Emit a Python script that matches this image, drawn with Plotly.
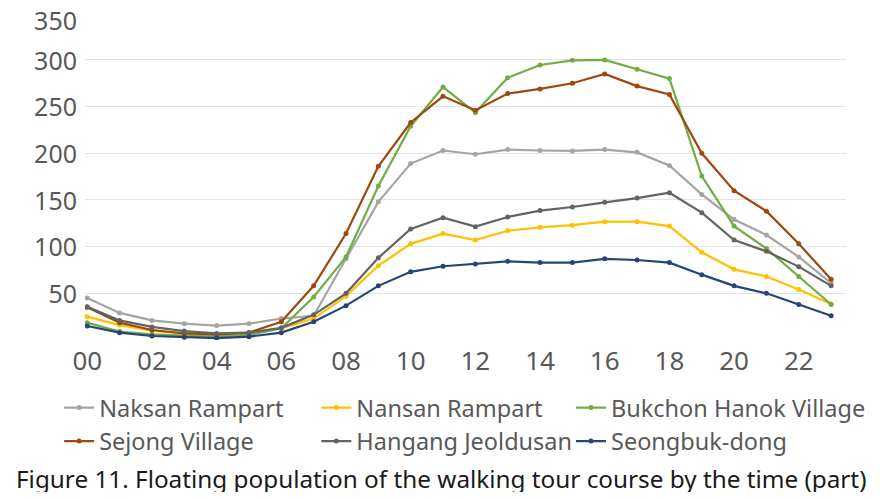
import plotly.graph_objects as go

hours = list(range(24))
tick_vals = list(range(0, 24, 2))
tick_text = ["00", "02", "04", "06", "08", "10", "12", "14", "16", "18", "20", "22"]
y_ticks = [50, 100, 150, 200, 250, 300, 350]

naksan = [45, 29, 21, 17.5, 15.5, 17.5, 23, 26, 87, 148, 189, 203, 199, 204, 203, 202.5, 204, 201, 187, 156, 129, 112.5, 89, 61]
nansan = [25, 16, 10, 7, 5.4, 6.4, 12.5, 23, 47, 79.6, 103, 114, 107, 117, 120.7, 123, 126.8, 126.8, 122, 94, 75.7, 68, 54, 38.6]
bukchon = [18.6, 9, 6, 4.6, 3.6, 5.4, 12.5, 46, 89, 165, 229, 271, 243.6, 281, 294.6, 299.6, 300, 290, 280, 175.7, 122, 98, 68, 38]
sejong = [35, 18.6, 10.7, 7, 6, 7.9, 19.6, 58, 114, 186, 233, 261, 246, 264, 269, 275, 285, 272, 263, 200, 160, 138, 103, 65]
hangang = [35.7, 21, 14, 9.6, 7, 8, 13, 27, 50, 88, 119, 131, 121.4, 131.8, 138.6, 142.5, 147.5, 152, 157.8, 136.4, 107, 95, 78.6, 58]
seongbuk = [15, 7.9, 4.3, 2.9, 2.1, 3.6, 7.9, 19.6, 36.8, 58, 73, 79, 81.4, 84.3, 82.9, 82.9, 87, 85.7, 82.9, 70, 58, 50, 38, 26]

# (name, values, colour, legend column)
series = [
    ("Naksan Rampart", naksan, "#A5A5A5", "legend"),
    ("Nansan Rampart", nansan, "#FFC000", "legend2"),
    ("Bukchon Hanok Village", bukchon, "#70AD47", "legend3"),
    ("Sejong Village", sejong, "#9E480E", "legend"),
    ("Hangang Jeoldusan", hangang, "#636363", "legend2"),
    ("Seongbuk-dong", seongbuk, "#264478", "legend3"),
]

fig = go.Figure()
for name, vals, color, lg in series:
    fig.add_trace(go.Scatter(
        x=hours, y=vals, name=name, mode="lines+markers",
        line=dict(color=color, width=2.2),
        marker=dict(color=color, size=5),
        legend=lg,
    ))
# empty helper trace so the overlay axis (top tick label) is drawn
fig.add_trace(go.Scatter(x=[], y=[], yaxis="y2", showlegend=False, hoverinfo="skip"))

leg_common = dict(
    orientation="v", y=-0.14, xanchor="left", yanchor="top",
    font=dict(size=23.5, color="#595959"), itemwidth=30, tracegroupgap=0,
    bgcolor="rgba(0,0,0,0)",
)

y_range = [0, 350.3]
low_ticks = y_ticks[:-1]
top_tick = y_ticks[-1:]

fig.update_layout(
    width=870, height=484,
    margin=dict(l=77, r=32, t=5, b=152, autoexpand=False),
    paper_bgcolor="white", plot_bgcolor="white",
    font=dict(family="Noto Sans", color="#595959"),
    showlegend=True,
    legend=dict(x=-0.034, **leg_common),
    legend2=dict(x=0.304, **leg_common),
    legend3=dict(x=0.6386, **leg_common),
    xaxis=dict(
        range=[-0.07, 23.46], tickvals=tick_vals, ticktext=tick_text,
        showgrid=False, zeroline=False, showline=False, automargin=False,
        tickfont=dict(size=26, color="#595959"), ticks="",
        ticklabelstandoff=3,
    ),
    yaxis=dict(
        range=y_range, tickvals=[0] + y_ticks,
        ticktext=[""] + [str(v) for v in low_ticks] + [""],
        showgrid=True, gridcolor="#E3E3E3", gridwidth=1, zeroline=False, automargin=False,
        tickfont=dict(size=25, color="#595959"), ticks="",
        ticklabelstandoff=7, ticklabelshift=1,
    ),
    yaxis2=dict(
        range=y_range, overlaying="y", side="left", tickvals=top_tick,
        ticktext=[str(v) for v in top_tick],
        showgrid=False, zeroline=False, showline=False, automargin=False,
        tickfont=dict(size=25, color="#595959"), ticks="",
        ticklabelstandoff=7, ticklabelshift=8, ticklabeloverflow="allow",
    ),
    annotations=[dict(
        text="Figure 11. Floating population of the walking tour course by the time (part)",
        x=0.5, xref="paper", xanchor="center",
        y=-0.423, yref="paper", yanchor="middle",
        showarrow=False, font=dict(size=24.3, color="#1a1a1a"),
        xshift=-24.5,
    )],
)

fig.write_html("out.html")
